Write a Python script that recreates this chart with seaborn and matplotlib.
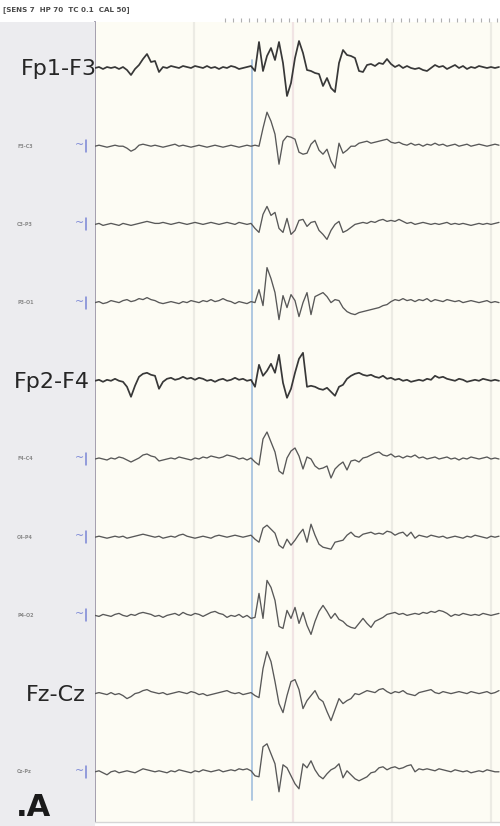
import numpy as np
import pandas as pd
import matplotlib
matplotlib.use("Agg")
import matplotlib.pyplot as plt
import seaborn as sns

# ---------------- data ----------------
channels = ["Fp1-F3", "F3-C3", "C3-P3", "P3-O1", "Fp2-F4",
            "F4-C4", "C4-P4", "P4-O2", "Fz-Cz", "Cz-Pz"]
big_label_channels = ["Fp1-F3", "Fp2-F4", "Fz-Cz"]
header_text = "[SENS 7  HP 70  TC 0.1  CAL 50]"
panel_letter = ".A"
sample_interval_s = 4 / 99      # one sample every ~40 ms
second_marks_s = [1, 2, 3, 4]
spike_onset_s = 1.59

fp1_f3 = [0, 1, -1, 1, 0, 1, -1, 1, -2, -7, -1, 3, 9, 14, 6, 7, -4, 1, 0, 2,
          1, 0, 2, 1, 0, 2, 1, 0, 2, 0, 1, -1, 1, 0, 2, 1, -1, 0, 1, 2,
          -3, 26, -3, 12, 20, 8, 26, 5, -28, -15, 10, 27, 15, -2, -3, -5, -6, -18, -10, -20,
          -24, 5, 18, 13, 12, 10, -3, -4, 3, 4, 2, 5, 4, 9, 4, 1, 3, 0, 2, 0,
          -1, 0, -2, -3, 0, 3, 1, 2, -1, 1, 3, 0, 2, -1, 1, 0, 2, 1, 0, 1, 0, 1]
f3_c3 = [0, 1, 0, -1, 0, 1, 0, 0, -2, -5, -3, 1, 2, 1, 0, 1, 0, -1, 0, 1,
         2, 0, 1, 0, -1, 0, 1, 0, -1, 0, 1, 0, -1, 0, 1, 0, -1, 0, 1, 0,
         1, 0, 18, 34, 25, 12, -18, 5, 10, 9, 7, -6, -8, -7, 2, 6, -4, -8, -3, -15,
         -22, 3, -7, -4, 0, 0, 3, 4, 5, 3, 4, 5, 6, 7, 4, 3, 4, 2, 1, 3,
         1, 2, 0, 2, 1, 3, 1, 2, 0, 1, 2, 0, 1, 2, 0, 1, 2, 1, 0, 1, 2, 1]
c3_p3 = [0, 1, -1, 0, 1, 0, -1, 1, 0, -1, 0, 1, 2, 3, 2, 1, 1, 2, 1, 0,
         1, 2, 1, 0, 1, 2, 1, 0, 1, 2, 1, 0, 1, 2, 1, 0, 2, 1, 0, 1,
         -4, -8, 10, 18, 9, 12, -4, -8, 6, -10, -6, 4, 5, -2, 2, 3, -6, -10, -15, -6,
         0, 3, -8, -6, -3, 0, 1, 2, 1, 3, 2, 4, 5, 3, 4, 3, 5, 3, 1, 2,
         0, 1, 2, 1, 0, 1, 0, 1, 2, 0, 1, 0, 1, 0, -1, 0, 1, 0, 1, 0, 1, 2]
p3_o1 = [0, 1, -1, 0, 2, 1, 0, 2, 3, 1, 2, 4, 3, 5, 3, 2, 0, -1, 0, 1,
         0, -1, 1, 0, 2, 1, 0, 2, 1, 3, 1, 2, 4, 2, 1, -1, 1, 0, -1, 1,
         0, 13, -3, 35, 24, 10, -17, 7, -5, 8, 2, -14, 0, 10, -12, 6, 8, 10, 6, 0,
         3, 2, -5, -9, -11, -12, -10, -9, -8, -7, -6, -5, -3, -2, 1, 3, 2, 4, 2, 3,
         1, 3, 2, 4, 1, 3, 2, 1, 3, 2, 1, 2, 0, 1, 2, 1, 0, 1, 2, 0, 1, 0]
fp2_f4 = [0, 1, -1, 1, 0, 2, 0, -1, -6, -16, -5, 4, 7, 8, 6, 5, -8, -1, 2, 3,
          1, 2, 4, 2, 3, 1, 3, 2, 0, 1, -1, 1, 2, 0, 1, 3, 1, 2, 0, 1,
          -6, 16, 5, 10, 17, 8, 26, -2, -17, -8, 8, 22, 28, -6, -5, -6, -8, -9, -7, -11,
          -15, -6, -4, 2, 5, 7, 8, 6, 5, 6, 4, 3, 5, 2, 3, 1, 2, 0, 1, -1,
          0, 1, 0, 2, 1, 5, 3, 4, 2, 1, 0, 2, 1, -1, 0, 1, 0, 2, 1, 0, 1, 0]
f4_c4 = [0, 1, 0, -1, 1, 0, 2, 1, -1, -3, -1, 1, 4, 5, 3, 2, -2, -1, 0, 1,
         0, 2, 1, 0, -1, 1, 0, 2, 1, 3, 2, 1, 2, 4, 3, 2, 0, 1, -1, 1,
         -3, -6, 20, 27, 17, 7, -12, -15, 1, 8, 11, 3, -10, 2, 0, -7, -10, -9, -7, -19,
         -10, -6, -3, -11, -2, -1, -3, 1, 2, 4, 6, 7, 4, 3, 5, 2, 3, 1, 3, 2,
         4, 1, 2, 0, 1, 2, 0, 1, 2, 0, 1, -1, 1, 0, 2, 1, 0, 1, 2, 0, 1, 0]
c4_p4 = [0, 1, 0, -1, 0, 1, 0, 1, -1, 0, 1, 2, 3, 2, 1, 0, 1, -1, 0, 1,
         0, 2, 3, 1, 0, -1, 0, 1, 0, -1, 1, 2, 1, 0, 1, 2, 1, 0, 1, 2,
         -2, -5, 9, 12, 8, 4, -8, -11, -2, -8, -3, 3, 8, -5, 13, 2, -7, -10, -11, -12,
         -5, -4, -3, 2, 5, 1, 0, 3, 4, 5, 3, 4, 3, 6, 5, 2, 4, 5, 1, 5,
         -1, 2, 1, 0, 2, 1, 0, 1, -1, 0, 1, 0, -1, 1, 0, 2, 1, 0, -1, 1, 0, 1]
p4_o2 = [0, -1, 1, 0, -1, 1, 2, 0, -1, 1, 0, 2, 3, 2, 1, -1, 0, -2, 0, 1,
         2, 0, 3, 1, 0, 2, 1, -1, 1, 3, 4, 2, 1, -2, 0, -1, 1, -2, 0, -3,
         -2, 22, -3, 35, 28, 15, -11, -13, 5, -3, 8, -8, 3, -10, -19, -6, 4, 10, 4, -3,
         2, -4, -6, -10, -12, -13, -8, -3, -8, -12, -6, -4, -2, 1, 2, 3, 1, 2, 0, 1,
         2, 1, 3, 2, 4, 3, 5, 4, 2, -1, 1, 0, 2, 1, 0, 1, 0, 2, 1, 0, 1, 2]
fz_cz = [0, 1, 0, -1, 1, -1, 0, -2, -5, -3, 0, 1, 3, 4, 2, 1, 0, 1, -1, 0,
         1, 2, 1, 0, 2, 1, -1, 0, -2, -1, 0, 1, 2, 3, 1, 0, 1, -1, 0, 1,
         -2, -4, 25, 42, 32, 12, -10, -19, -2, 12, 14, 4, -15, -7, -2, 3, -5, -8, -18, -27,
         -16, -5, -10, -7, -5, 0, -1, 1, 3, 2, 1, 4, 5, 2, 0, 2, 1, 3, 0, -1,
         -2, 1, 2, 3, 4, 1, 0, 2, 1, 0, 1, 2, 1, 0, 2, 1, 0, 1, 2, 0, 1, 3]
cz_pz = [0, 1, -1, -3, 0, 1, -1, 0, 1, 0, -1, 1, 3, 2, 1, 0, 1, 0, -1, 1,
         0, 2, 1, 0, -1, 1, 0, 2, 1, 0, 1, 2, 0, 1, 2, 1, 3, 2, 3, 1,
         -4, -5, 25, 28, 18, 8, -20, 7, 4, -4, -12, -17, 8, 4, 11, 2, -4, -7, -2, 2,
         4, 8, -6, 1, -3, -7, -9, -7, -5, -1, 0, 4, 5, 2, 4, 5, 3, 4, 6, 7,
         0, 3, 2, 3, 2, 1, 3, 2, 1, 0, 2, 1, 0, 1, -1, 0, 1, 0, 2, 1, 0, 0]

traces = [fp1_f3, f3_c3, c3_p3, p3_o1, fp2_f4, f4_c4, c4_p4, p4_o2, fz_cz, cz_pz]

# ---------------- figure layout ----------------
W, H = 500, 826
fig = plt.figure(figsize=(W / 100, H / 100), dpi=100)
fig.patch.set_facecolor("white")

sns.set_style("white")
plt.rcParams["font.family"] = ["DejaVu Sans"]

plot_left_px, plot_top_px, plot_bottom_px = 95, 22, 822
ax = fig.add_axes([plot_left_px / W, (H - plot_bottom_px) / H,
                   (W - plot_left_px) / W, (plot_bottom_px - plot_top_px) / H])
side = fig.add_axes([0, 0, plot_left_px / W, (H - plot_top_px) / H])
side.set_facecolor("#ececef")
side.set_xlim(0, plot_left_px)
side.set_ylim(H, plot_top_px)
side.set_xticks([]); side.set_yticks([])
for s in side.spines.values():
    s.set_visible(False)

ax.set_facecolor("#fdfcf4")

row_first_px, row_step_px = 68, 78.2
rows = []
for i, (name, vals) in enumerate(zip(channels, traces)):
    v = np.asarray(vals, dtype=float)
    t = np.arange(len(v)) * sample_interval_s
    center = row_first_px + i * row_step_px
    rows.append(pd.DataFrame({"t": t, "y": center - v, "channel": name}))
df = pd.concat(rows, ignore_index=True)

t_end = 405 / 99
ax.set_xlim(0, t_end)
ax.set_ylim(plot_bottom_px, plot_top_px)

for k, m in enumerate(second_marks_s):
    ax.axvline(m, color="#f1e4e4" if k == 1 else "#ecebe4", lw=1.6, zorder=0)

ax.plot([spike_onset_s, spike_onset_s], [60, 800], color="#a9c4e0", lw=1.3, zorder=1)

for name in channels:
    sub = df[df["channel"] == name]
    big = name in ("Fp1-F3", "Fp2-F4")
    sns.lineplot(data=sub, x="t", y="y", ax=ax, estimator=None, sort=False,
                 color="#383838" if big else "#585858",
                 lw=1.25 if big else 0.95, legend=False, zorder=3)

ax.set_xlabel(""); ax.set_ylabel("")
ax.set_yticks([])
top_ticks = np.arange(130 / 99, t_end, 8 / 99)
ax.set_xticks(top_ticks)
ax.tick_params(axis="x", top=True, bottom=False, labeltop=False, labelbottom=False,
               direction="out", length=3, width=0.8, color="#b0b0b0")
for k in ["top", "right"]:
    ax.spines[k].set_visible(False)
ax.spines["left"].set_color("#9d98a8")
ax.spines["left"].set_linewidth(1.3)
ax.spines["bottom"].set_color("#d6d6d6")
ax.spines["bottom"].set_linewidth(1.0)

# channel labels and calibration marks
label_right_px = {"Fp1-F3": 97, "Fp2-F4": 90, "Fz-Cz": 86}
for i, name in enumerate(channels):
    center = row_first_px + i * row_step_px
    if name in big_label_channels:
        side.text(label_right_px[name], center + 1, name, ha="right", va="center",
                  fontsize=16, color="#262626", clip_on=False, zorder=5)
    else:
        side.text(17, center, name, ha="left", va="center", fontsize=3.5,
                  color="#8a8a8a", fontweight="bold")
        side.text(79, center - 1, "~", ha="center", va="center", fontsize=8,
                  color="#7a86d6")
        side.plot([86, 86], [center - 6, center + 6], color="#7a86d6", lw=1.1)

fig.text(3 / W, 1 - 10 / H, header_text, ha="left", va="center", fontsize=5.1,
         color="#4a4a4a", fontweight="bold")
side.text(16, 808, panel_letter, ha="left", va="center", fontsize=22,
          fontweight="bold", color="#1a1a1a")

fig.savefig("out.png", dpi=100)
